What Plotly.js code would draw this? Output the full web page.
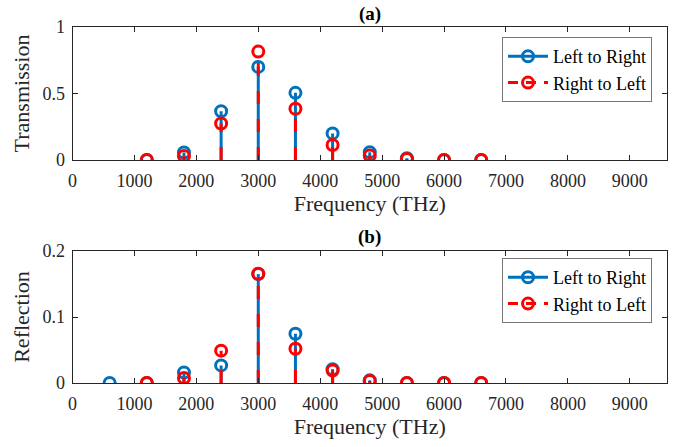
<!DOCTYPE html>
<html>
<head>
<meta charset="utf-8">
<script src="https://cdn.plot.ly/plotly-3.0.1.min.js"></script>
<style>html,body{margin:0;padding:0;background:#fff;}#chart{width:684px;height:447px;}</style>
</head>
<body>
<div id="chart"></div>
<script>
// Data
const freqT = [1200, 1800, 2400, 3000, 3600, 4200, 4800, 5400, 6000, 6600];
const transLR = [0.0, 0.056, 0.366, 0.70, 0.505, 0.20, 0.058, 0.013, 0.0, 0.0];
const transRL = [0.0, 0.031, 0.275, 0.815, 0.385, 0.113, 0.033, 0.008, 0.0, 0.0];

const freqR_LR = [600, 1200, 1800, 2400, 3000, 3600, 4200, 4800, 5400, 6000, 6600];
const reflLR = [0.0, 0.0, 0.016, 0.0267, 0.165, 0.0747, 0.021, 0.004, 0.0, 0.0, 0.0];
const freqR_RL = [1200, 1800, 2400, 3000, 3600, 4200, 4800, 5400, 6000, 6600];
const reflRL = [0.0, 0.0075, 0.049, 0.1656, 0.052, 0.019, 0.003, 0.0, 0.0, 0.0];

const xTicks = [0, 1000, 2000, 3000, 4000, 5000, 6000, 7000, 8000, 9000];
const yTicksT = [0, 0.5, 1];
const yTicksR = [0, 0.1, 0.2];
const seriesNames = ['Left to Right', 'Right to Left'];

const BLUE = '#0072BD', RED = '#FF0000';
const FONT = 'Liberation Serif, Times New Roman, serif';

function stemXY(xs, ys) {
  const X = [], Y = [];
  xs.forEach((x, i) => { X.push(x, x, null); Y.push(0, ys[i], null); });
  return {X, Y};
}

function stemTraces(xs, ys, color, dash, xa, ya, name, legendId) {
  const s = stemXY(xs, ys);
  return [
    {x: s.X, y: s.Y, xaxis: xa, yaxis: ya, mode: 'lines', type: 'scatter',
     line: {color: color, width: 3, dash: dash}, showlegend: false, hoverinfo: 'skip'},
    {x: xs, y: ys, xaxis: xa, yaxis: ya, mode: 'markers', type: 'scatter',
     marker: {symbol: 'circle-open', size: 11, color: color, line: {width: 3, color: color}},
     showlegend: false},
    {x: [null], y: [null], xaxis: xa, yaxis: ya, mode: 'lines+markers', type: 'scatter', name: name,
     legend: legendId,
     line: {color: color, width: 3, dash: dash === 'solid' ? 'solid' : '10px,8px'},
     marker: {symbol: 'circle-open', size: 11, color: color, line: {width: 3, color: color}}}
  ];
}

const data = [].concat(
  stemTraces(freqT, transLR, BLUE, 'solid', 'x', 'y', seriesNames[0], 'legend'),
  stemTraces(freqT, transRL, RED, '13px,15px', 'x', 'y', seriesNames[1], 'legend'),
  stemTraces(freqR_LR, reflLR, BLUE, 'solid', 'x2', 'y2', seriesNames[0], 'legend2'),
  stemTraces(freqR_RL, reflRL, RED, '13px,15px', 'x2', 'y2', seriesNames[1], 'legend2')
);

const W = 684, H = 447;
const xDom = [72.5 / W, 667 / W];
function yDom(top, bottom) { return [1 - bottom / H, 1 - top / H]; }

const axCommon = {
  showline: true, mirror: 'ticks', linecolor: '#262626', linewidth: 1,
  ticks: 'inside', ticklen: 5, tickcolor: '#262626', showgrid: false, zeroline: false,
  tickfont: {family: FONT, size: 18, color: '#262626'}
};
const titleFont = {family: FONT, size: 22, color: '#262626'};

const layout = {
  width: W, height: H,
  margin: {l: 0, r: 0, t: 0, b: 0},
  paper_bgcolor: '#fff', plot_bgcolor: '#fff',
  font: {family: FONT, color: '#262626'},
  xaxis: Object.assign({}, axCommon, {domain: xDom, anchor: 'y', range: [0, 9600],
    tickvals: xTicks, ticktext: xTicks.map(String), ticklabelstandoff: 4,
    title: {text: 'Frequency (THz)', font: titleFont, standoff: 3}}),
  yaxis: Object.assign({}, axCommon, {domain: yDom(27, 160), anchor: 'x', range: [0, 1],
    tickvals: yTicksT, ticktext: yTicksT.map(String), ticklabelstandoff: 3,
    title: {text: 'Transmission', font: titleFont, standoff: 6}}),
  xaxis2: Object.assign({}, axCommon, {domain: xDom, anchor: 'y2', range: [0, 9600],
    tickvals: xTicks, ticktext: xTicks.map(String), ticklabelstandoff: 4,
    title: {text: 'Frequency (THz)', font: titleFont, standoff: 3}}),
  yaxis2: Object.assign({}, axCommon, {domain: yDom(251, 383), anchor: 'x2', range: [0, 0.2],
    tickvals: yTicksR, ticktext: yTicksR.map(String), ticklabelstandoff: 3,
    title: {text: 'Reflection', font: titleFont, standoff: 6}}),
  legend: {x: 652 / W, xanchor: 'right', y: 1 - 37 / H, yanchor: 'top',
    bgcolor: '#fff', bordercolor: '#777', borderwidth: 1,
    font: {family: FONT, size: 18, color: '#000'}, itemwidth: 40, tracegroupgap: 0},
  legend2: {x: 652 / W, xanchor: 'right', y: 1 - 258 / H, yanchor: 'top',
    bgcolor: '#fff', bordercolor: '#777', borderwidth: 1,
    font: {family: FONT, size: 18, color: '#000'}, itemwidth: 40, tracegroupgap: 0},
  annotations: [
    {text: '<b>(a)</b>', x: (xDom[0] + xDom[1]) / 2, y: 1 - 14 / H, xref: 'paper', yref: 'paper',
     xanchor: 'center', yanchor: 'middle',
     showarrow: false, font: {family: FONT, size: 19, color: '#000'}},
    {text: '<b>(b)</b>', x: (xDom[0] + xDom[1]) / 2, y: 1 - 237 / H, xref: 'paper', yref: 'paper',
     xanchor: 'center', yanchor: 'middle',
     showarrow: false, font: {family: FONT, size: 19, color: '#000'}}
  ],
  showlegend: true
};

Plotly.newPlot('chart', data, layout, {displayModeBar: false, staticPlot: true});
</script>
</body>
</html>
